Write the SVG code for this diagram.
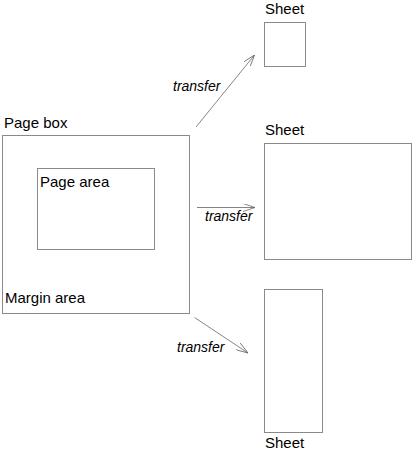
<svg xmlns="http://www.w3.org/2000/svg" width="412" height="455" viewBox="0 0 412 455">
<style>
.box{fill:#fff;stroke:#8a8a8a;stroke-width:1}
.t{font-family:"Liberation Sans",Arial,sans-serif;font-size:15px;fill:#000}
.i{font-family:"Liberation Sans",Arial,sans-serif;font-size:14px;font-style:italic;fill:#000}
.c{stroke:#666;stroke-width:0.8;fill:none}
</style>
<defs>
<marker id="ah" viewBox="0 0 12 8" refX="12" refY="4" markerWidth="12" markerHeight="8" markerUnits="userSpaceOnUse" orient="auto">
<polyline points="0,0 12,4 0,8" fill="none" stroke="#666" stroke-width="0.8"/>
</marker>
</defs>
<rect width="412" height="455" fill="#fff"/>
<g id="pagebox">
<rect class="box" x="2.5" y="135.5" width="187" height="178"/>
<text class="t" x="4" y="128">Page box</text>
<text class="t" x="5" y="303">Margin area</text>
</g>
<g id="pagearea">
<rect class="box" x="37.5" y="168.5" width="117" height="81"/>
<text class="t" x="40" y="187">Page area</text>
</g>
<g id="sheet1">
<rect class="box" x="264.5" y="22.5" width="41" height="44"/>
<text class="t" x="265" y="14">Sheet</text>
</g>
<g id="sheet2">
<rect class="box" x="264.5" y="143.5" width="147" height="116"/>
<text class="t" x="265" y="135">Sheet</text>
</g>
<g id="sheet3">
<rect class="box" x="264.5" y="289.5" width="58" height="143"/>
<text class="t" x="265" y="448">Sheet</text>
</g>
<g id="connectors">
<line class="c" x1="196" y1="127" x2="254.5" y2="55" marker-end="url(#ah)"/>
<text class="i" x="173" y="91">transfer</text>
<line class="c" x1="197" y1="207.5" x2="255" y2="207.5" marker-end="url(#ah)"/>
<text class="i" x="205" y="221">transfer</text>
<line class="c" x1="194.5" y1="317.5" x2="248" y2="353" marker-end="url(#ah)"/>
<text class="i" x="177" y="352">transfer</text>
</g>
</svg>
